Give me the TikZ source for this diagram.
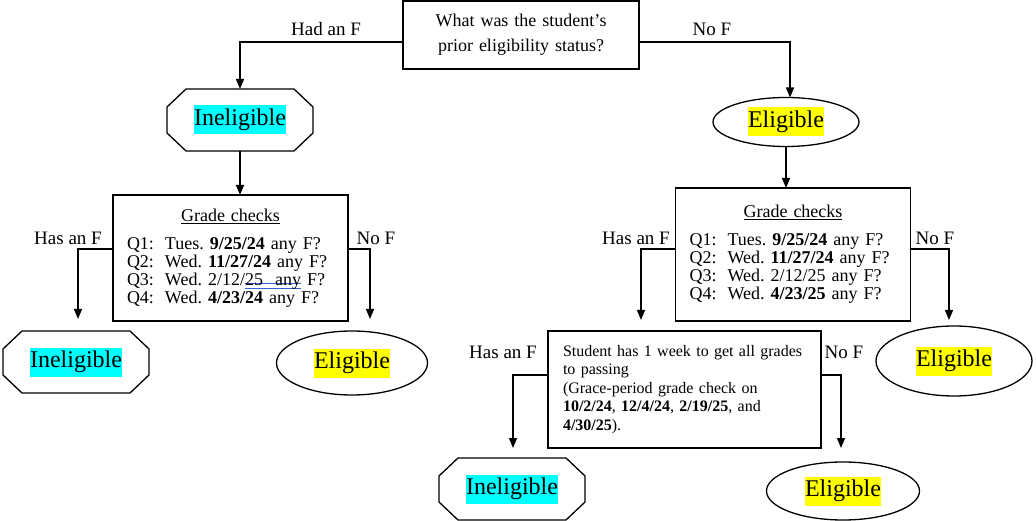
\documentclass[tikz,border=0pt]{standalone}
\usepackage{fontspec}
\setmainfont{Liberation Serif}
\usetikzlibrary{arrows.meta,shapes.geometric}
\frenchspacing

\definecolor{spellblue}{RGB}{52,98,214}
\definecolor{hlcyan}{RGB}{0,255,255}
\definecolor{hlyellow}{RGB}{255,255,0}
% double blue mark under a few words
\newsavebox{\spellbox}
\newcommand{\spellmark}[1]{\sbox{\spellbox}{#1}%
    \rlap{\textcolor{spellblue}{\rule[1pt]{\wd\spellbox}{1pt}}}%
    \rlap{\textcolor{spellblue}{\rule[-3.5pt]{\wd\spellbox}{1pt}}}\usebox{\spellbox}}
\newcommand{\hlc}[1]{{\setlength{\fboxsep}{0pt}\colorbox{hlcyan}{\strut #1}}}
\newcommand{\hly}[1]{{\setlength{\fboxsep}{0pt}\colorbox{hlyellow}{\strut #1}}}
\newcommand{\qlabel}[1]{\makebox[38pt][l]{#1}}

\begin{document}
\begin{tikzpicture}[x=1pt, y=-1pt, line width=1.3pt,
    box/.style = {draw, rectangle, outer sep=0pt},
    gbox/.style = {box, text width=207pt, inner xsep=14pt, inner ysep=0pt, minimum width=235pt, align=left, font=\fontsize{18}{18}\selectfont},
    octa/.style = {rectangle, outer sep=0pt, inner sep=0pt, minimum width=146pt, minimum height=62pt, font=\fontsize{24}{29}\selectfont},
    oval/.style = {draw, ellipse, outer sep=0pt, inner sep=0pt, font=\fontsize{24}{29}\selectfont},
    lbl/.style = {anchor=base, inner sep=0pt, font=\fontsize{19}{22}\selectfont},
    arr/.style = {-{Triangle[length=10pt,width=8pt]}}]
    \useasboundingbox (0,0) rectangle (1036,521);

    \node[box, text width=220pt, align=center, minimum width=236pt, minimum height=68pt, inner ysep=0pt, font=\fontsize{18}{25}\selectfont] (q) at (521,35)
        {What was the student's\\ prior eligibility status?\par\vspace{12pt}};

    \node[octa] (inTop) at (240,120) {\hlc{Ineligible}};
    \node[oval, minimum width=146pt, minimum height=49pt] (elTop) at (786,122) {\hly{Eligible}};

    \node[gbox, minimum height=126pt] (gcL) at (230.5,258)
        {\makebox[207pt]{\underline{Grade checks}}\\[10pt]
         \qlabel{Q1:}Tues. \textbf{9/25/24} any F?\\
         \qlabel{Q2:}Wed. \textbf{11/27/24} any F?\\
         \qlabel{Q3:}Wed. 2/12/\spellmark{25\ \ any} F?\\
         \qlabel{Q4:}Wed. \textbf{4/23/24} any F?\par\vspace{8pt}};
    \node[gbox, minimum height=133pt] (gcR) at (793,254.5)
        {\makebox[207pt]{\underline{Grade checks}}\\[10pt]
         \qlabel{Q1:}Tues. \textbf{9/25/24} any F?\\
         \qlabel{Q2:}Wed. \textbf{11/27/24} any F?\\
         \qlabel{Q3:}Wed. 2/12/25 any F?\\
         \qlabel{Q4:}Wed. \textbf{4/23/25} any F?\par\vspace{8pt}};

    \node[octa] (inLeft) at (76,362) {\hlc{Ineligible}};
    \node[oval, minimum width=151pt, minimum height=64pt] (elLeft) at (352,363) {\hly{Eligible}};
    \node[oval, minimum width=156pt, minimum height=70pt] (elRight) at (954,361) {\hly{Eligible}};

    \node[box, text width=243pt, inner xsep=15pt, inner ysep=0pt, minimum width=273pt, minimum height=117pt, align=left, font=\fontsize{16}{18.5}\selectfont] (stu) at (684.5,389.5)
        {Student has 1 week to get all grades\\ to passing\\ (Grace-period grade check on\\
         \textbf{10/2/24}, \textbf{12/4/24}, \textbf{2/19/25}, and\\ \textbf{4/30/25}).};

    \node[octa] (inBot) at (512,489) {\hlc{Ineligible}};
    \node[oval, minimum width=153pt, minimum height=58pt] (elBot) at (843,491) {\hly{Eligible}};

    % octagon outlines
    \foreach \n in {inTop,inLeft,inBot}
        \draw ([xshift=19pt]\n.north west) -- ([xshift=-19pt]\n.north east) -- ([yshift=-18pt]\n.north east)
            -- ([yshift=18pt]\n.south east) -- ([xshift=-19pt]\n.south east) -- ([xshift=19pt]\n.south west)
            -- ([yshift=18pt]\n.south west) -- ([yshift=-18pt]\n.north west) -- cycle;

    \node[lbl] (lHad) at (326,36) {Had an F};
    \node[lbl] (lNoTop) at (712,36) {No F};
    \node[lbl] (lHasL) at (68,245) {Has an F};
    \node[lbl] (lNoL) at (376,245) {No F};
    \node[lbl] (lHasR) at (636,245) {Has an F};
    \node[lbl] (lNoR) at (935,245) {No F};
    \node[lbl] (lHasS) at (503,358) {Has an F};
    \node[lbl] (lNoS) at (844,358) {No F};

    \draw[arr] ([yshift=-7pt]q.west) -| (inTop.north);
    \draw[arr] ([yshift=-7pt]q.east) -| ([xshift=4pt]elTop.north);
    \draw[arr] (inTop.south) -- (inTop.south |- gcL.north);
    \draw[arr] (elTop.south) -- (elTop.south |- gcR.north);
    \draw[arr] ([yshift=9pt]gcL.west) -| ([xshift=2pt,yshift=12pt]inLeft.north);
    \draw[arr] ([yshift=9pt]gcL.east) -| ([xshift=18pt,yshift=12pt]elLeft.north);
    \draw[arr] ([yshift=5.5pt]gcR.west) -| ([xshift=-43.5pt,yshift=11pt]stu.north);
    \draw[arr] ([yshift=5.5pt]gcR.east) -| ([xshift=-5pt,yshift=6pt]elRight.north);
    \draw[arr] ([yshift=14.5pt]stu.west) -| ([xshift=1pt,yshift=10pt]inBot.north);
    \draw[arr] ([yshift=14.5pt]stu.east) -| ([xshift=-2pt,yshift=14pt]elBot.north);

\end{tikzpicture}
\end{document}
